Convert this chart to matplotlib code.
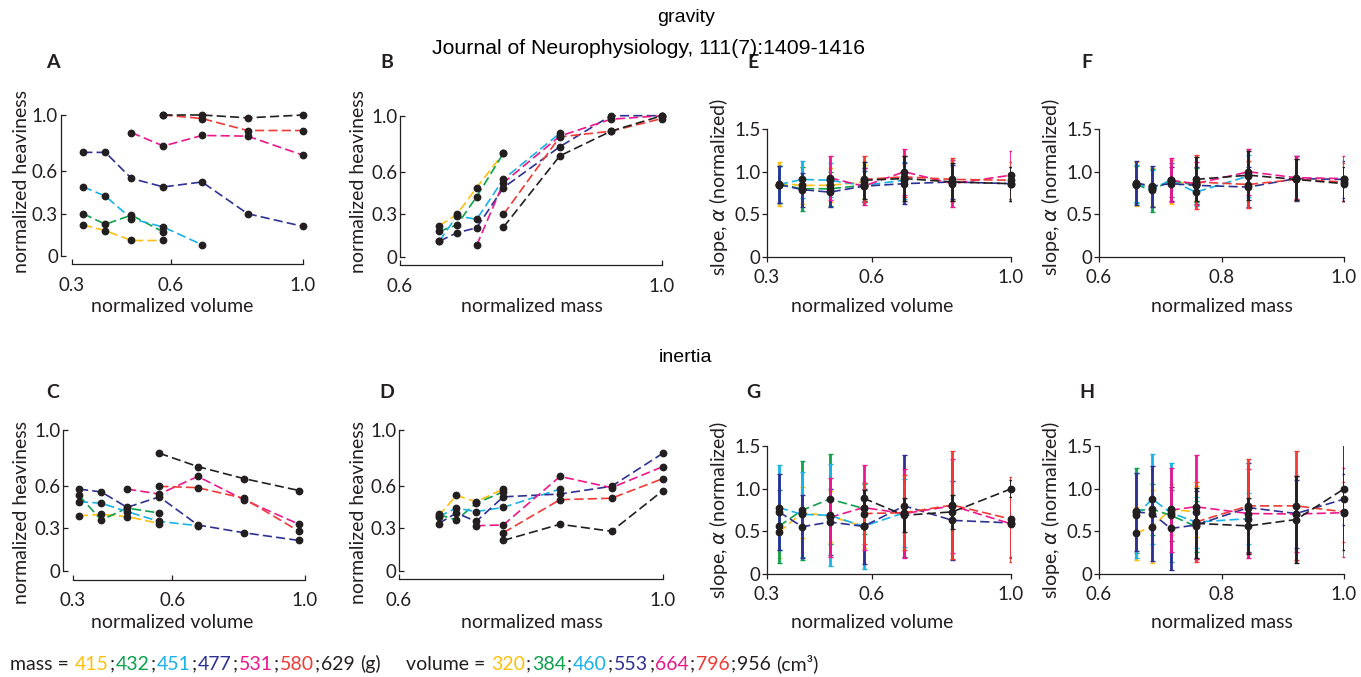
import numpy as np
import matplotlib.pyplot as plt

W, H = 1361, 677
nan = np.nan

# -------------------- data --------------------
masses = ['415', '432', '451', '477', '531', '580', '629']
volumes = ['320', '384', '460', '553', '664', '796', '956']
colors = ['#FDC010', '#0DA14B', '#1AB2E8', '#2E3192', '#EC178C', '#EF3A36', '#231F20']

mass_x = [0.660, 0.687, 0.717, 0.758, 0.844, 0.922, 1.0]
vol_x = [0.334, 0.401, 0.480, 0.577, 0.694, 0.832, 1.0]
vol_x_c = [0.319, 0.386, 0.464, 0.561, 0.677, 0.815, 0.982]

# normalized heaviness, gravity condition: one list per mass, columns = volumes
grav_415 = [0.22, 0.18, 0.11, 0.11, nan, nan, nan]
grav_432 = [0.30, 0.225, 0.29, 0.17, nan, nan, nan]
grav_451 = [0.49, 0.425, 0.265, 0.205, 0.08, nan, nan]
grav_477 = [0.735, 0.735, 0.55, 0.49, 0.525, 0.30, 0.21]
grav_531 = [nan, nan, 0.875, 0.78, 0.855, 0.85, 0.715]
grav_580 = [nan, nan, nan, 1.0, 0.975, 0.89, 0.89]
grav_629 = [nan, nan, nan, 1.0, 1.0, 0.98, 1.0]

# normalized heaviness, inertia condition
iner_415 = [0.39, 0.40, 0.385, 0.335, nan, nan, nan]
iner_432 = [0.535, 0.36, 0.445, 0.41, nan, nan, nan]
iner_451 = [0.49, 0.48, 0.42, 0.35, 0.32, nan, nan]
iner_477 = [0.58, 0.56, 0.45, 0.525, 0.325, 0.27, 0.215]
iner_531 = [nan, nan, 0.58, 0.545, 0.67, 0.505, 0.33]
iner_580 = [nan, nan, nan, 0.60, 0.59, 0.515, 0.28]
iner_629 = [nan, nan, nan, 0.835, 0.74, 0.655, 0.57]

# slope alpha, panel E (rows = mass, columns = volume)
e_mean = [[0.86, 0.84, 0.84, 0.88, nan, nan, nan],
          [0.85, 0.80, 0.80, 0.84, nan, nan, nan],
          [0.85, 0.91, 0.90, 0.84, 0.90, nan, nan],
          [0.85, 0.79, 0.76, 0.83, 0.86, 0.88, 0.86],
          [nan, nan, 0.93, 0.83, 1.00, 0.86, 0.96],
          [nan, nan, nan, 0.91, 0.94, 0.91, 0.90],
          [nan, nan, nan, 0.90, 0.92, 0.88, 0.86]]
e_err = [[0.26, 0.22, 0.20, 0.20, nan, nan, nan],
         [0.22, 0.26, 0.20, 0.20, nan, nan, nan],
         [0.22, 0.22, 0.20, 0.20, 0.22, nan, nan],
         [0.22, 0.20, 0.17, 0.18, 0.24, 0.20, 0.20],
         [nan, nan, 0.26, 0.22, 0.27, 0.28, 0.28],
         [nan, nan, nan, 0.27, 0.24, 0.25, 0.22],
         [nan, nan, nan, 0.22, 0.26, 0.22, 0.20]]

# panel F (rows = volume, columns = mass)
f_mean = [[0.86, 0.82, 0.88, 0.86, nan, nan, nan],
          [0.85, 0.78, 0.90, 0.84, nan, nan, nan],
          [0.86, 0.80, 0.90, 0.76, 0.95, nan, nan],
          [0.87, 0.83, 0.86, 0.84, 0.82, 0.92, 0.91],
          [nan, nan, 0.90, 0.86, 1.00, 0.93, 0.92],
          [nan, nan, nan, 0.88, 0.85, 0.91, 0.88],
          [nan, nan, nan, 0.91, 0.96, 0.91, 0.86]]
f_err = [[0.26, 0.22, 0.26, 0.20, nan, nan, nan],
         [0.22, 0.25, 0.20, 0.20, nan, nan, nan],
         [0.22, 0.22, 0.20, 0.16, 0.25, nan, nan],
         [0.26, 0.24, 0.20, 0.22, 0.24, 0.26, 0.22],
         [nan, nan, 0.26, 0.25, 0.27, 0.25, 0.27],
         [nan, nan, nan, 0.32, 0.28, 0.24, 0.22],
         [nan, nan, nan, 0.26, 0.29, 0.24, 0.20]]

# panel G (rows = mass, columns = volume)
g_mean = [[0.49, 0.72, 0.68, 0.56, nan, nan, nan],
          [0.56, 0.75, 0.88, 0.77, nan, nan, nan],
          [0.78, 0.70, 0.69, 0.56, 0.72, nan, nan],
          [0.73, 0.555, 0.61, 0.56, 0.80, 0.63, 0.60],
          [nan, nan, 0.665, 0.78, 0.71, 0.80, 0.59],
          [nan, nan, nan, 0.71, 0.72, 0.81, 0.645],
          [nan, nan, nan, 0.89, 0.69, 0.73, 1.00]]
g_err = [[0.30, 0.30, 0.30, 0.25, nan, nan, nan],
         [0.43, 0.58, 0.53, 0.30, nan, nan, nan],
         [0.50, 0.50, 0.60, 0.50, 0.40, nan, nan],
         [0.45, 0.37, 0.39, 0.44, 0.60, 0.46, 0.40],
         [nan, nan, 0.46, 0.50, 0.52, 0.55, 0.40],
         [nan, nan, nan, 0.36, 0.44, 0.63, 0.50],
         [nan, nan, nan, 0.10, 0.20, 0.20, 0.10]]

# panel H (rows = volume, columns = mass)
h_mean = [[0.48, 0.555, 0.76, 0.73, nan, nan, nan],
          [0.745, 0.76, 0.69, 0.56, nan, nan, nan],
          [0.69, 0.88, 0.72, 0.61, 0.65, nan, nan],
          [0.73, 0.71, 0.535, 0.575, 0.78, 0.71, 0.88],
          [nan, nan, 0.75, 0.79, 0.71, 0.705, 0.72],
          [nan, nan, nan, 0.61, 0.80, 0.80, 0.73],
          [nan, nan, nan, 0.595, 0.565, 0.64, 1.00]]
h_err = [[0.31, 0.43, 0.30, 0.30, nan, nan, nan],
         [0.50, 0.30, 0.30, 0.30, nan, nan, nan],
         [0.50, 0.53, 0.58, 0.30, 0.30, nan, nan],
         [0.46, 0.56, 0.49, 0.40, 0.52, 0.40, 0.30],
         [nan, nan, 0.49, 0.61, 0.52, 0.45, 0.52],
         [nan, nan, nan, 0.47, 0.55, 0.64, 0.35],
         [nan, nan, nan, 0.41, 0.33, 0.51, 0.72]]

grav = np.array([grav_415, grav_432, grav_451, grav_477, grav_531, grav_580, grav_629])
iner = np.array([iner_415, iner_432, iner_451, iner_477, iner_531, iner_580, iner_629])

# -------------------- plotting --------------------
plt.rcParams['font.family'] = ['Lato', 'DejaVu Sans']
ink = '#231F20'
dash = (0, (5.5, 2.5))

fig = plt.figure(figsize=(W / 100, H / 100), dpi=100)


def px_axes(l, r, t, b):
    return fig.add_axes([l / W, 1 - b / H, (r - l) / W, (b - t) / H])


def ftext(x, y, s, **kw):
    return fig.text(x / W, 1 - y / H, s, **kw)


def frame(ax, xlim, ylim, xticks, yticks, ylabels, xoff=0, yoff=0, tdir='in', xpad=6, ypad=2):
    ax.set_xlim(*xlim)
    ax.set_ylim(*ylim)
    ax.patch.set_visible(False)
    for s in ['top', 'right']:
        ax.spines[s].set_visible(False)
    ax.spines['left'].set_position(('outward', yoff))
    ax.spines['bottom'].set_position(('outward', xoff))
    ax.spines['left'].set_bounds(*ylim)
    ax.spines['bottom'].set_bounds(*xlim)
    for s in ['left', 'bottom']:
        ax.spines[s].set_linewidth(0.9)
        ax.spines[s].set_color(ink)
    ax.set_xticks(xticks, ['%.1f' % v for v in xticks])
    ax.set_yticks(yticks, ylabels)
    ax.tick_params(direction=tdir, length=3.5, width=0.9, color=ink,
                   labelcolor=ink, labelsize=13.5)
    ax.tick_params(axis='x', pad=xpad)
    ax.tick_params(axis='y', pad=ypad)


def heavy(ax, x, rows):
    x = np.array(x)
    for row, c in zip(rows, colors):
        ok = ~np.isnan(row)
        ax.plot(x[ok], row[ok], color=c, lw=1.2, ls=dash, zorder=2, clip_on=False)
    for row in rows:
        ok = ~np.isnan(row)
        ax.plot(x[ok], row[ok], 'o', color=ink, ms=4.6, zorder=3, clip_on=False)


def slope(ax, x, means, errs):
    x = np.array(x)
    for m, e, c in zip(means, errs, colors):
        m, e = np.array(m), np.array(e)
        ok = ~np.isnan(m)
        ax.errorbar(x[ok], m[ok], yerr=e[ok], fmt='none', ecolor=c,
                    elinewidth=2.0, capsize=1.8, capthick=1.0, zorder=2)
        ax.plot(x[ok], m[ok], color=c, lw=1.2, ls=dash, zorder=2)
    for m in means:
        m = np.array(m)
        ok = ~np.isnan(m)
        ax.plot(x[ok], m[ok], 'o', color=ink, ms=4.6, zorder=3, clip_on=False)


h_ticks = [0, 0.3, 0.6, 1.0]
h_labels = ['0', '0.3', '0.6', '1.0']
s_ticks = [0, 0.5, 1.0, 1.5]
s_labels = ['0', '0.5', '1.0', '1.5']

# A: gravity, heaviness vs volume (lines = mass)
axA = px_axes(72, 303, 115, 256)
heavy(axA, vol_x, grav)
frame(axA, (0.3, 1.0), (0, 1.0), [0.3, 0.6, 1.0], h_ticks, h_labels, xoff=6, yoff=8, xpad=9)

# B: gravity, heaviness vs mass (lines = volume)
axB = px_axes(400, 662, 115.7, 256.7)
heavy(axB, mass_x, grav.T)
frame(axB, (0.6, 1.0), (0, 1.0), [0.6, 1.0], h_ticks, h_labels, xoff=6, yoff=0, xpad=9)

# C: inertia, heaviness vs volume
axC = px_axes(72.7, 305, 430, 570.7)
heavy(axC, vol_x_c, iner)
frame(axC, (0.3, 1.0), (0, 1.0), [0.3, 0.6, 1.0], h_ticks, h_labels, xoff=6.5, yoff=7, xpad=9)

# D: inertia, heaviness vs mass
axD = px_axes(399, 663, 430, 570.7)
heavy(axD, mass_x, iner.T)
frame(axD, (0.6, 1.0), (0, 1.0), [0.6, 1.0], h_ticks, h_labels, xoff=6, yoff=0, xpad=9)

# E-H: slopes
axE = px_axes(767, 1011, 129.3, 256.7)
slope(axE, vol_x, e_mean, e_err)
frame(axE, (0.3, 1.0), (0, 1.5), [0.3, 0.6, 1.0], s_ticks, s_labels, tdir='out', xpad=5, ypad=1)

axF = px_axes(1099, 1344, 129.3, 256.7)
slope(axF, mass_x, f_mean, f_err)
frame(axF, (0.6, 1.0), (0, 1.5), [0.6, 0.8, 1.0], s_ticks, s_labels, tdir='out', xpad=5, ypad=1)

axG = px_axes(767, 1011, 446.3, 574)
slope(axG, vol_x, g_mean, g_err)
frame(axG, (0.3, 1.0), (0, 1.5), [0.3, 0.6, 1.0], s_ticks, s_labels, tdir='out', xpad=5, ypad=1)

axH = px_axes(1099, 1344, 446.3, 574)
slope(axH, mass_x, h_mean, h_err)
frame(axH, (0.6, 1.0), (0, 1.5), [0.6, 0.8, 1.0], s_ticks, s_labels, tdir='out', xpad=5, ypad=1)

# axis labels
lab = dict(fontsize=14, color=ink, ha='center', va='center')
for x, y in [(172, 307), (172, 622), (872, 307), (872, 623)]:
    ftext(x, y, 'normalized volume', **lab)
for x, y in [(532, 307), (532, 622), (1222, 307), (1222, 622)]:
    ftext(x, y, 'normalized mass', **lab)
for x, y in [(22, 181), (22, 513), (358, 181), (358, 513)]:
    ftext(x, y, 'normalized heaviness', rotation=90, **lab)
for x, y in [(718, 187), (718, 510), (1050, 187), (1050, 510)]:
    ftext(x, y, 'slope, $\\alpha$ (normalized)', rotation=90, **lab)

# panel letters
for s, x, y in [('A', 53, 63), ('B', 387, 63), ('E', 753, 63), ('F', 1087, 63),
                ('C', 53, 392), ('D', 387, 392), ('G', 753, 393), ('H', 1087, 393)]:
    ftext(x, y, s, fontsize=14, fontweight='bold', color=ink, ha='center', va='center')

ftext(686, 18, 'gravity', fontsize=14, family='Liberation Sans', ha='center', va='center')
ftext(686, 357, 'inertia', fontsize=14, family='Liberation Sans', ha='center', va='center')
ftext(648, 48, 'Journal of Neurophysiology, 111(7):1409-1416', fontsize=15.3,
      family='Liberation Sans', ha='center', va='center')

# colour-coded key at the bottom
pieces = [('mass =', ink, 0)]
for i, (m, c) in enumerate(zip(masses, colors)):
    pieces.append((m, c, 5 if i == 0 else 0))
    if i < len(masses) - 1:
        pieces.append((';', ink, 0))
pieces.append(('(g)', ink, 4))
pieces.append(('volume =', ink, 24))
for i, (v, c) in enumerate(zip(volumes, colors)):
    pieces.append((v, c, 5 if i == 0 else 0))
    if i < len(volumes) - 1:
        pieces.append((';', ink, 0))
pieces.append(('(cm³)', ink, 4))

renderer = fig.canvas.get_renderer()
xpos = 10
for txt, c, gap in pieces:
    xpos += gap
    t = ftext(xpos, 664, txt, fontsize=14, color=c, ha='left', va='center')
    xpos = t.get_window_extent(renderer).x1 + 1

fig.savefig('out.png', dpi=100)
